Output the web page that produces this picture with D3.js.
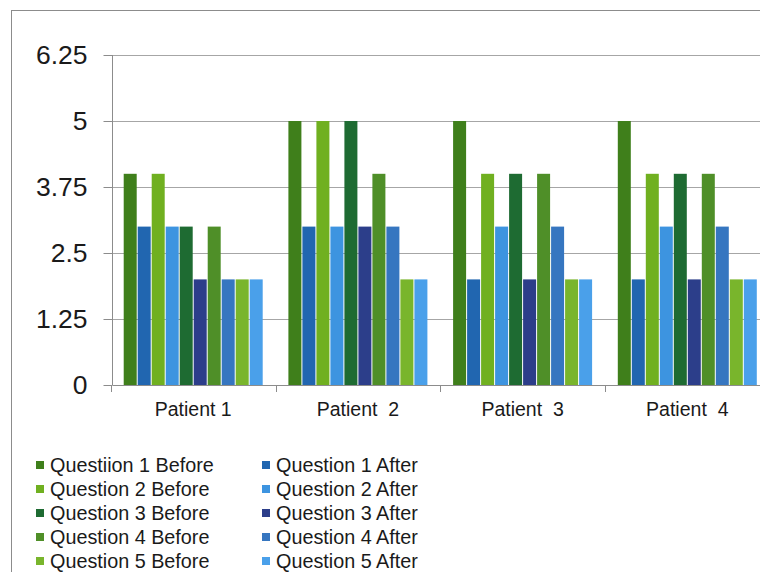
<!DOCTYPE html>
<html>
<head>
<meta charset="utf-8">
<script src="https://cdn.jsdelivr.net/npm/d3@7"></script>
<style>
html,body{margin:0;padding:0;background:#fff;}
svg{display:block;font-family:"Liberation Sans",Arial,sans-serif;}
</style>
</head>
<body>
<svg id="chart" width="760" height="572"></svg>
<script>
const patients = ["Patient 1", "Patient  2", "Patient  3", "Patient  4"];
const seriesNames = ["Questiion 1 Before","Question 1 After","Question 2 Before","Question 2 After","Question 3 Before","Question 3 After","Question 4 Before","Question 4 After","Question 5 Before","Question 5 After"];
const seriesColors = ["#3f7f1b","#2166b0","#70b020","#3d94e0","#1e6b32","#2c3e8a","#4f8f28","#3676c0","#79b52c","#4aa0ea"];
const patient1 = [4,3,4,3,3,2,3,2,2,2];
const patient2 = [5,3,5,3,5,3,4,3,2,2];
const patient3 = [5,2,4,3,4,2,4,3,2,2];
const patient4 = [5,2,4,3,4,2,4,3,2,2];
const values = [patient1, patient2, patient3, patient4];
const yTicks = [0,1.25,2.5,3.75,5,6.25];
const yTickLabels = ["0","1.25","2.5","3.75","5","6.25"];

(function(){
const svg = d3.select("#chart");
svg.append("rect").attr("x",11.5).attr("y",10.5).attr("width",800).attr("height",600)
  .attr("fill","none").attr("stroke","#8c8c8c").attr("stroke-width",1);

const pLeft = 112.5, pRight = 768, pTop = 55, pBottom = 385;
const y = d3.scaleLinear().domain([0,6.25]).range([pBottom, pTop]);
const x0 = d3.scaleBand().domain(patients).range([pLeft, pRight]).paddingInner(0.15).paddingOuter(0.065);
const x1 = d3.scaleBand().domain(seriesNames).range([0, x0.bandwidth()]);

svg.append("g").selectAll("line").data(yTicks.slice(1)).join("line")
  .attr("x1",104).attr("x2",760).attr("y1",d=>Math.round(y(d))+0.5).attr("y2",d=>Math.round(y(d))+0.5)
  .attr("stroke","#a6a6a6").attr("stroke-width",1.2);

const yAxis = d3.axisLeft(y).tickValues(yTicks).tickSize(9).tickPadding(16)
  .tickFormat((d,i)=>yTickLabels[i]);
const gy = svg.append("g").attr("transform",`translate(${pLeft},0)`).call(yAxis);
gy.select(".domain").attr("stroke","#8c8c8c").attr("d",`M0,${pTop}V${pBottom}`);
gy.selectAll(".tick line").attr("stroke","#8c8c8c");
gy.selectAll(".tick text").attr("font-size",26.5).attr("fill","#1a1a1a")
  .attr("font-family","'Liberation Sans',Arial,sans-serif");

const groups = svg.append("g").selectAll("g").data(patients).join("g")
  .attr("transform",d=>`translate(${x0(d)},0)`);
groups.selectAll("rect").data((p,i)=>values[i].map((v,j)=>({s:seriesNames[j],v,c:seriesColors[j]}))).join("rect")
  .attr("x",d=>x1(d.s)+0.5).attr("width",x1.bandwidth()-1)
  .attr("y",d=>y(d.v)).attr("height",d=>pBottom-y(d.v)).attr("fill",d=>d.c);

const step = x0.step();
svg.append("line").attr("x1",pLeft).attr("x2",pRight).attr("y1",pBottom+0.5).attr("y2",pBottom+0.5)
  .attr("stroke","#8c8c8c");
svg.append("g").selectAll("line").data(patients).join("line")
  .attr("x1",d=>Math.round(x0(d)-step*0.075)+0.5)
  .attr("x2",d=>Math.round(x0(d)-step*0.075)+0.5)
  .attr("y1",pBottom).attr("y2",pBottom+7).attr("stroke","#8c8c8c");
svg.append("g").selectAll("text").data(patients).join("text")
  .attr("x",d=>x0(d)+x0.bandwidth()/2).attr("y",416)
  .attr("text-anchor","middle").attr("font-size",19.5).attr("fill","#1a1a1a")
  .style("white-space","pre")
  .text(d=>d);

const legend = svg.append("g");
seriesNames.forEach((name,i)=>{
  const col = i % 2, row = Math.floor(i/2);
  const lx = col === 0 ? 36 : 262;
  const ly = 465 + row*24;
  legend.append("rect").attr("x",lx).attr("y",ly-4).attr("width",8).attr("height",8).attr("fill",seriesColors[i]);
  legend.append("text").attr("x",lx+14).attr("y",ly+7).attr("font-size",19.8).attr("fill","#1a1a1a").text(name);
});
})();
</script>
</body>
</html>
